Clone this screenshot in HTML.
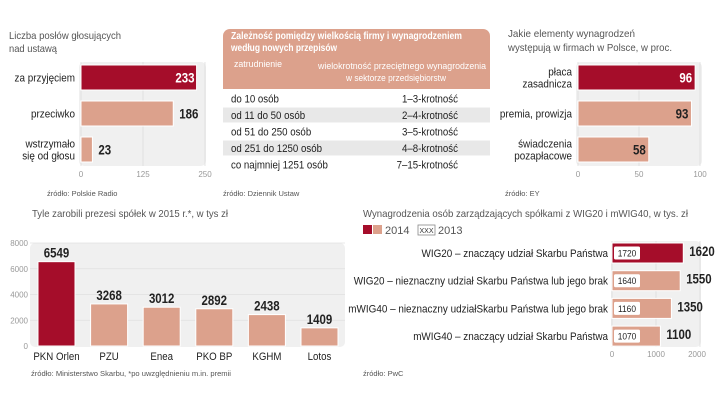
<!DOCTYPE html>
<html><head><meta charset="utf-8"><style>
html,body{margin:0;padding:0;background:#fff;}
svg{display:block;font-family:"Liberation Sans",sans-serif;}
.t{fill:#555;font-size:10.5px;}
.s{fill:#555;font-size:7.5px;}
.k{fill:#999;font-size:8px;}
.l{fill:#222;font-size:11px;}
.v{fill:#222;font-size:14px;font-weight:bold;}
</style></head><body>
<svg id="c" width="720" height="405" viewBox="0 0 720 405" xmlns="http://www.w3.org/2000/svg">
<g>
<text class="t" x="9" y="39" textLength="112" lengthAdjust="spacingAndGlyphs">Liczba posłów głosujących</text>
<text class="t" x="9" y="52" textLength="48" lengthAdjust="spacingAndGlyphs">nad ustawą</text>
<rect x="79" y="62" width="127" height="104" rx="5" fill="#f0f0f0"/>
<g id="g1"></g>
<text class="s" x="47" y="196">źródło: Polskie Radio</text>
</g>
<g>
<path d="M223 36 a7 7 0 0 1 7 -7 H483 a7 7 0 0 1 7 7 V89 H223 Z" fill="#dca18c"/>
<text x="231" y="39" fill="#fff" font-size="10" font-weight="bold" textLength="231" lengthAdjust="spacingAndGlyphs">Zależność pomiędzy wielkością firmy i wynagrodzeniem</text>
<text x="231" y="51" fill="#fff" font-size="10" font-weight="bold" textLength="106" lengthAdjust="spacingAndGlyphs">według nowych przepisów</text>
<text x="234" y="67" fill="#fff" font-size="9" textLength="48" lengthAdjust="spacingAndGlyphs">zatrudnienie</text>
<text x="318" y="69" fill="#fff" font-size="9" textLength="168" lengthAdjust="spacingAndGlyphs">wielokrotność przeciętnego wynagrodzenia</text>
<text x="346" y="81" fill="#fff" font-size="9" textLength="100" lengthAdjust="spacingAndGlyphs">w sektorze przedsiębiorstw</text>
<g id="tbl"></g>
<text class="s" x="223" y="196">źródło: Dziennik Ustaw</text>
</g>
<g>
<text class="t" x="508" y="37" textLength="127" lengthAdjust="spacingAndGlyphs">Jakie elementy wynagrodzeń</text>
<text class="t" x="508" y="51" textLength="164" lengthAdjust="spacingAndGlyphs">występują w firmach w Polsce, w proc.</text>
<rect x="576" y="62" width="126" height="104" rx="5" fill="#f0f0f0"/>
<g id="g3"></g>
<text class="s" x="505" y="196">źródło: EY</text>
</g>
<g>
<text class="t" x="32" y="217" textLength="196" lengthAdjust="spacingAndGlyphs">Tyle zarobili prezesi spółek w 2015 r.*, w tys zł</text>
<rect x="30" y="243" width="315" height="104" rx="5" fill="#f0f0f0"/>
<g id="g4"></g>
<text class="s" x="31" y="376" textLength="200" lengthAdjust="spacingAndGlyphs">źródło: Ministerstwo Skarbu, *po uwzględnieniu m.in. premii</text>
</g>
<g>
<text class="t" x="363" y="217" textLength="325" lengthAdjust="spacingAndGlyphs">Wynagrodzenia osób zarządzających spółkami z WIG20 i mWIG40, w tys. zł</text>
<rect x="363" y="225" width="9" height="9" fill="#a50d2a"/>
<rect x="373" y="225" width="9" height="9" fill="#dca18c"/>
<text x="385" y="234" fill="#555" font-size="11">2014</text>
<rect x="418" y="225" width="17" height="10" fill="#fff" stroke="#888" stroke-width="0.8"/>
<text x="426.5" y="233" fill="#333" font-size="7" text-anchor="middle">XXX</text>
<text x="438" y="234" fill="#555" font-size="11">2013</text>
<rect x="611" y="241" width="90" height="106" rx="5" fill="#f0f0f0"/>
<g id="g5"></g>
<text class="s" x="363" y="376">źródło: PwC</text>
</g>
</svg>
<script>
const voteCats=["za przyjęciem","przeciwko","wstrzymało|się od głosu"];
const voteVals=[233,186,23];
const voteTicks=[0,125,250];
const tblLeft=["do 10 osób","od 11 do 50 osób","od 51 do 250 osób","od 251  do 1250 osób","co najmniej 1251 osób"];
const tblRight=["1–3-krotność","2–4-krotność","3–5-krotność","4–8-krotność","7–15-krotność"];
const elCats=["płaca|zasadnicza","premia, prowizja","świadczenia|pozapłacowe"];
const elVals=[96,93,58];
const elTicks=[0,50,100];
const ceoCats=["PKN Orlen","PZU","Enea","PKO BP","KGHM","Lotos"];
const ceoVals=[6549,3268,3012,2892,2438,1409];
const ceoTicks=[0,2000,4000,6000,8000];
const wigCats=["WIG20 – znaczący udział Skarbu Państwa","WIG20 – nieznaczny udział Skarbu Państwa lub jego brak","mWIG40 – nieznaczny udziałSkarbu Państwa lub jego brak","mWIG40 – znaczący udział Skarbu Państwa"];
const wig2014=[1620,1550,1350,1100];
const wig2013=[1720,1640,1160,1070];
const wigTicks=[0,1000,2000];

const NS="http://www.w3.org/2000/svg";
const RED="#a50d2a",SAL="#dca18c";
function mk(p,tag,a,txt){const e=document.createElementNS(NS,tag);for(const k in a)e.setAttribute(k,a[k]);if(txt!==undefined)e.textContent=txt;p.appendChild(e);return e;}
function fit(e,ratio){try{const w=e.getComputedTextLength();e.setAttribute("textLength",(w*ratio).toFixed(1));e.setAttribute("lengthAdjust","spacingAndGlyphs");}catch(err){}}
function lines(p,x,yc,str,cls,anchor){const parts=str.split("|");const lh=12;const y0=yc-(parts.length-1)*lh/2+4;parts.forEach((s,i)=>{const t=mk(p,"text",{x:x,y:y0+i*lh,class:cls,"text-anchor":anchor},s);fit(t,0.9);});}

// chart 1
(function(){const g=document.getElementById("g1");const x=v=>81+v*(124/250);const ys=[65,101,137];const h=25;
voteTicks.forEach(t=>{const l=mk(g,"line",{x1:x(t),x2:x(t),y1:62,y2:166,stroke:"#ddd","stroke-width":0.8});
const tx=mk(g,"text",{x:x(t),y:177,class:"k","text-anchor":"middle"},t);});
voteVals.forEach((v,i)=>{const r=mk(g,"rect",{x:x(0),y:ys[i],width:x(v)-x(0),height:h,fill:i==0?RED:SAL,stroke:"#fff","stroke-width":1});
lines(g,75,ys[i]+h/2,voteCats[i],"l","end");
const inside=i==0;const t=mk(g,"text",{x:inside?x(v)-2:x(v)+6,y:ys[i]+h/2+5,class:"v","text-anchor":inside?"end":"start",style:inside?"fill:#fff":""},v);fit(t,0.82);});})();

// table
(function(){const g=document.getElementById("tbl");tblLeft.forEach((s,i)=>{const y=91+i*16.5;if(i%2==1){const r=mk(g,"rect",{x:223,y:y,width:267,height:15,fill:"#e8e8e8"});}
const a=mk(g,"text",{x:231,y:y+11.5,class:"l"},s);fit(a,0.88);
const b=mk(g,"text",{x:458,y:y+11.5,class:"l","text-anchor":"end"},tblRight[i]);fit(b,0.88);});})();

// chart 3
(function(){const g=document.getElementById("g3");const x=v=>578+v*(122/100);const ys=[65,101,137];const h=25;
elTicks.forEach(t=>{const l=mk(g,"line",{x1:x(t),x2:x(t),y1:62,y2:166,stroke:"#ddd","stroke-width":0.8});
const tx=mk(g,"text",{x:x(t),y:177,class:"k","text-anchor":"middle"},t);});
elVals.forEach((v,i)=>{const r=mk(g,"rect",{x:x(0),y:ys[i],width:x(v)-x(0),height:h,fill:i==0?RED:SAL,stroke:"#fff","stroke-width":1});
lines(g,572,ys[i]+h/2,elCats[i],"l","end");
const t=mk(g,"text",{x:x(v)-3,y:ys[i]+h/2+5,class:"v","text-anchor":"end",style:i==0?"fill:#fff":""},v);fit(t,0.82);});})();

// chart 4
(function(){const g=document.getElementById("g4");const y=v=>346-v*(103/8000);const bw=37;
ceoTicks.forEach(t=>{if(t>0){const l=mk(g,"line",{x1:30,x2:345,y1:y(t),y2:y(t),stroke:"#e0e0e0","stroke-width":0.8});}
const tx=mk(g,"text",{x:28,y:y(t)+3,class:"k","text-anchor":"end"},t);});
ceoVals.forEach((v,i)=>{const x=38+i*52.6;const r=mk(g,"rect",{x:x,y:y(v),width:bw,height:346-y(v),fill:i==0?RED:SAL,stroke:"#fff","stroke-width":1});
const t=mk(g,"text",{x:x+bw/2,y:y(v)-4,class:"v","text-anchor":"middle"},v);fit(t,0.82);
const c=mk(g,"text",{x:x+bw/2,y:360,class:"l","text-anchor":"middle","font-size":12.5},ceoCats[i]);fit(c,0.88);});})();

// chart 5
(function(){const g=document.getElementById("g5");const x=v=>612+v*(88/2000);const h=20;
wigTicks.forEach(t=>{const l=mk(g,"line",{x1:x(t),x2:x(t),y1:241,y2:347,stroke:"#ddd","stroke-width":0.8});
const tx=mk(g,"text",{x:x(t)+(t==2000?-3:0),y:357,class:"k","text-anchor":"middle"},t);});
wig2014.forEach((v,i)=>{const y0=243+i*27.7;const r=mk(g,"rect",{x:x(0),y:y0,width:x(v)-x(0),height:h,fill:i==0?RED:SAL,stroke:"#fff","stroke-width":1});
const b=mk(g,"rect",{x:614,y:y0+3.5,width:26,height:13,fill:"#fff",rx:1.5});
const bt=mk(g,"text",{x:627,y:y0+13.5,fill:"#222","font-size":9.5,"text-anchor":"middle"},wig2013[i]);fit(bt,0.88);
const t=mk(g,"text",{x:x(v)+6,y:y0+13,class:"v"},v);fit(t,0.82);
const c=mk(g,"text",{x:608,y:y0+14,class:"l","text-anchor":"end"},wigCats[i]);fit(c,0.9);});})();
</script>
</body></html>
